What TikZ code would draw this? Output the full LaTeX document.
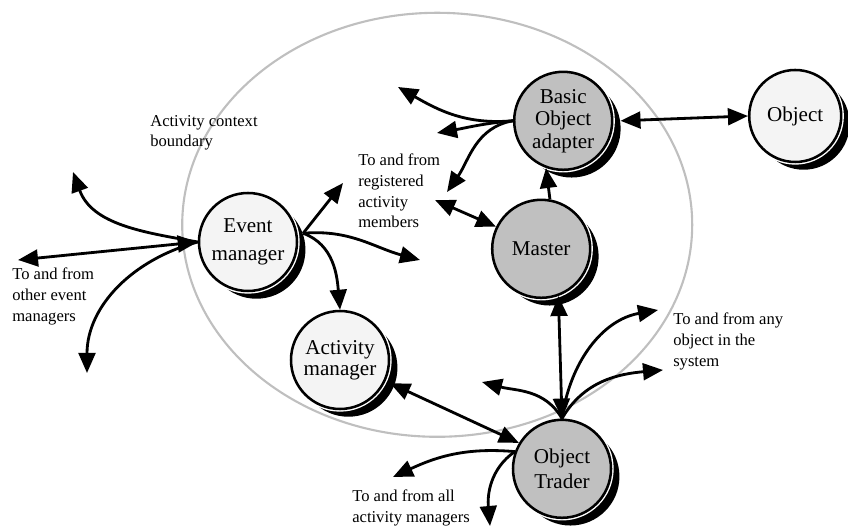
\documentclass[tikz,border=0pt]{standalone}
\usepackage{fontspec}
\setmainfont{Liberation Serif}
\usetikzlibrary{arrows.meta,positioning,shadows}
\definecolor{lightfill}{HTML}{F4F4F4}
\definecolor{darkfill}{HTML}{C0C0C0}
\definecolor{ctxgray}{HTML}{BFBFBF}

\tikzset{
  proc/.style={circle, draw=black, line width=1.8pt, minimum size=2.45cm,
    inner sep=0pt, align=center, font=\rmfamily\fontsize{15}{17}\selectfont,
    drop shadow={fill=black, opacity=1, shadow xshift=6pt, shadow yshift=-5.5pt},
    preaction={draw=white, line width=3.8pt}},
  lightproc/.style={proc, fill=lightfill},
  darkproc/.style={proc, fill=darkfill},
  note/.style={anchor=north west, inner sep=0pt, align=left,
    font=\rmfamily\fontsize{11.8}{14.7}\selectfont},
  link/.style={line width=2pt, -{Triangle[length=0.5cm,width=0.42cm]}},
  dlink/.style={line width=2pt, {Triangle[length=0.5cm,width=0.42cm]}-{Triangle[length=0.5cm,width=0.42cm]}}
}

\begin{document}
\begin{tikzpicture}
  \useasboundingbox (0,0) rectangle (21.2,13.2);

  % Activity context boundary
  \draw[ctxgray, line width=1.5pt] (10.93,7.58) ellipse (6.375 and 5.3);
  \node[note] (ctx) at (3.75,10.325) {Activity context\\boundary};

  % Processes
  \node[lightproc, font=\rmfamily\fontsize{15}{20}\selectfont] (event) at (6.2,7.15) {Event\\manager};
  \node[lightproc, font=\rmfamily\fontsize{15}{15}\selectfont] (actmgr) at (8.5,4.2) {Activity\\manager};
  \node[darkproc]  (master) at (13.53,6.98) {Master};
  \node[darkproc, font=\rmfamily\fontsize{15}{16}\selectfont] (boa) at (14.08,10.18) {Basic\\Object\\adapter};
  \node[lightproc, minimum size=2.3cm] (object) at (19.88,10.3) {Object};
  \node[darkproc, font=\rmfamily\fontsize{15}{18}\selectfont] (trader) at (14.05,1.48) {Object\\Trader};

  % Loose ends
  \coordinate (eml1) at (1.825,8.9);
  \coordinate (eml2) at (0.45,6.7);
  \coordinate (eml3) at (2.175,3.875);
  \coordinate (emr1) at (8.575,8.625);
  \coordinate (emr2) at (10.5,6.7);
  \coordinate (boa1) at (9.95,11.025);
  \coordinate (boa2) at (10.925,9.875);
  \coordinate (boa3) at (11.175,8.4);
  \coordinate (mreg) at (10.875,8.2);
  \coordinate (any1) at (16.45,5.45);
  \coordinate (any2) at (16.575,3.95);
  \coordinate (otl)  at (12.05,3.65);
  \coordinate (tam1) at (9.825,1.275);
  \coordinate (tam2) at (12.25,0.05);

  % Event manager
  \draw[dlink] (eml2) -- (event.west);
  \foreach \c/\o/\i in {eml1/170/-70, eml3/195/90}
    \draw[link] (event.west) to[out=\o,in=\i] (\c);
  \draw[link] ([xshift=4pt]event.10) -- (emr1);
  \draw[link] ([xshift=4pt]event.10) to[out=5,in=165] (emr2);
  \draw[link] ([xshift=4pt]event.10) to[out=-20,in=95] (actmgr.north);

  % Basic Object adapter
  \foreach \c/\o/\i in {boa1/185/-30, boa2/185/10, boa3/190/55}
    \draw[link] (boa.west) to[out=\o,in=\i] (\c);
  \draw[dlink] ([xshift=5pt]boa.east) -- (object.west);
  \draw[link] (master.80) -- (boa.250);
  \draw[dlink] (mreg) -- (master.154);

  % Object Trader
  \draw[dlink] (master.-70) -- (trader.north);
  \foreach \c/\o/\i in {any1/82/190, any2/60/185, otl/120/-15}
    \draw[link] (trader.north) to[out=\o,in=\i] (\c);
  \draw[dlink] ([xshift=3pt,yshift=-2pt]actmgr.-24) -- (trader.149);
  \foreach \c/\o/\i in {tam1/175/25, tam2/215/95}
    \draw[link] (trader.160) to[out=\o,in=\i] (\c);

  % Notes
  \node[note] (regnote) at (8.95,9.35) {To and from\\registered\\activity\\members};
  \node[note] (oemnote) at (0.3,6.5) {To and from\\other event\\managers};
  \node[note] (anynote) at (16.825,5.375) {To and from any\\object in the\\system};
  \node[note] (tamnote) at (8.8,0.95) {To and from all\\activity managers};
\end{tikzpicture}
\end{document}
